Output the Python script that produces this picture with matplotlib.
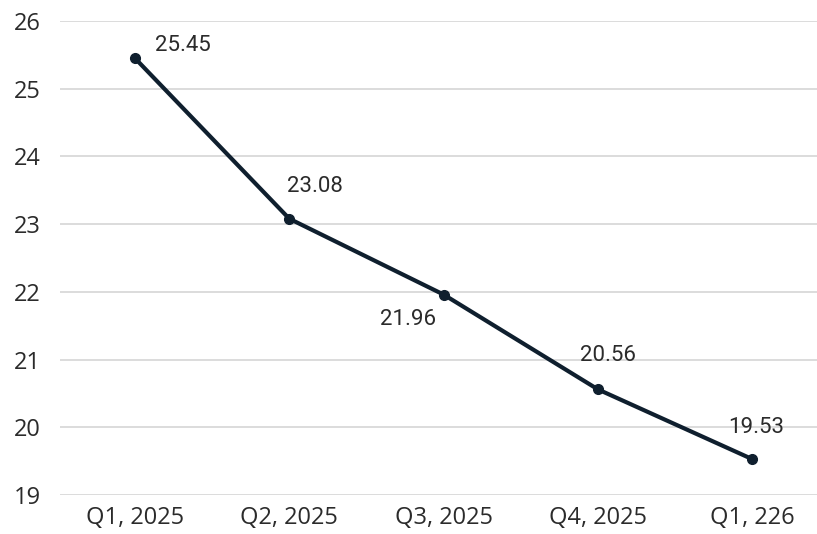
import matplotlib.pyplot as plt

quarters = ['Q1, 2025', 'Q2, 2025', 'Q3, 2025', 'Q4, 2025', 'Q1, 226']
values = [25.45, 23.08, 21.96, 20.56, 19.53]
labels = ['25.45', '23.08', '21.96', '20.56', '19.53']
# label offsets in pixels (dx, dy) relative to each point
offsets = [(48, 13), (26, 32), (-36, -25), (10, 34), (4, 32)]

fig = plt.figure(figsize=(8.17, 5.34), dpi=100)
ax = fig.add_axes([60 / 817, 1 - 495 / 534, 1 - 60 / 817, (495 - 21) / 534])

x = list(range(len(quarters)))
ax.plot(x, values, color='#0f1f2e', lw=3, marker='o', ms=7, zorder=3)

for xi, v, lab, (dx, dy) in zip(x, values, labels, offsets):
    ax.annotate(lab, (xi, v), xytext=(dx, dy), textcoords='offset pixels',
                ha='center', va='center', fontsize=16, family='Roboto', color='#2b2b2b')

ax.set_ylim(19, 26)
ax.set_xlim(-0.486, 4.42)
ax.set_yticks(range(19, 27))
ax.set_xticks(x)
ax.set_xticklabels(quarters)
ax.grid(axis='y', color='#d9d9d9', lw=1.3)
ax.set_axisbelow(True)
for s in ax.spines.values():
    s.set_visible(False)
ax.tick_params(length=0, labelsize=17, colors='#2b2b2b', pad=8)
ax.tick_params(axis='y', pad=14)
for t in ax.get_xticklabels() + ax.get_yticklabels():
    t.set_family('Open Sans')

fig.savefig('out.png', dpi=100)
